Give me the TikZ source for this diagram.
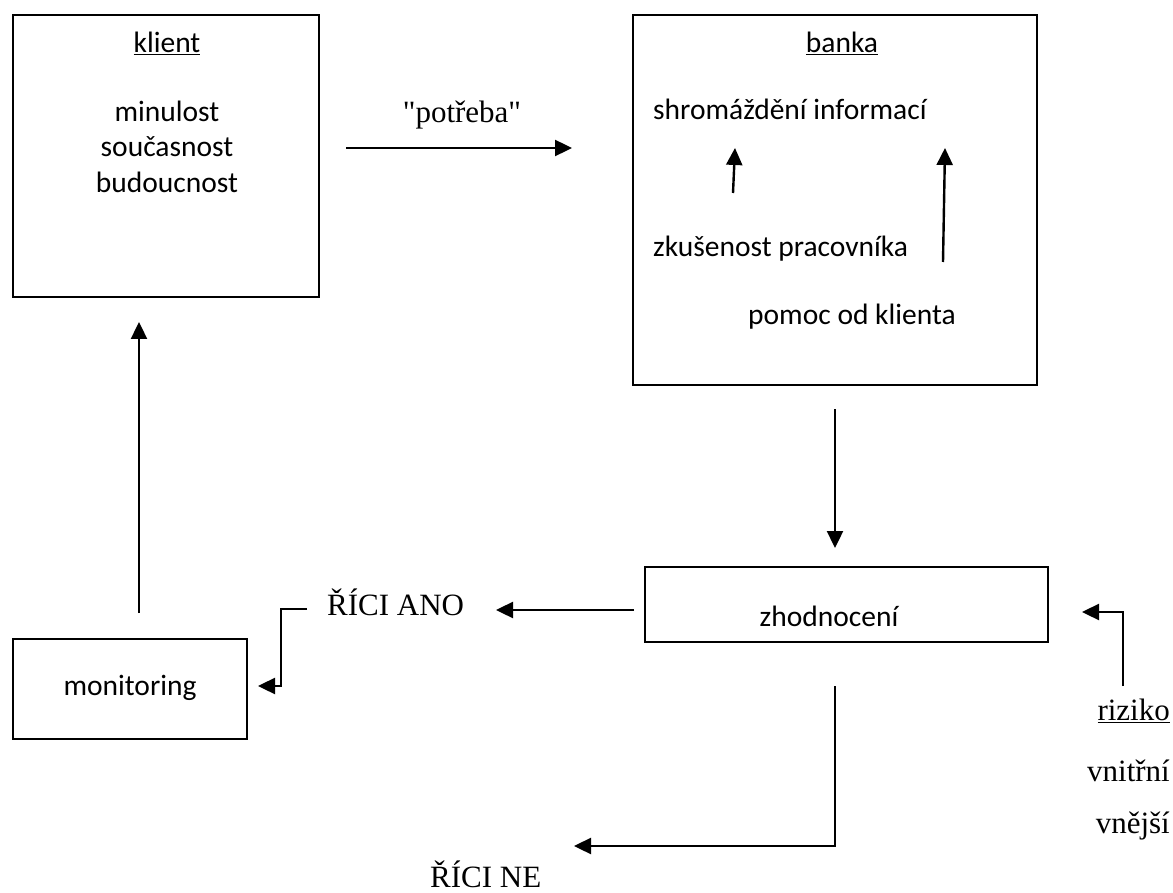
\documentclass[tikz,border=0pt]{standalone}
\usepackage{fontspec}
\newfontfamily\serifplain{Liberation Serif}
\newfontfamily\calib{Carlito}
\usetikzlibrary{arrows.meta}
\tikzset{
  box/.style={draw, line width=1.7pt, inner sep=0pt},
  cal/.style={font=\calib\fontsize{29.5}{35}\selectfont, inner sep=0pt},
  tms/.style={font=\serifplain\fontsize{31}{37}\selectfont, inner sep=0pt},
  conn/.style={line width=2.4pt, -{Triangle[length=17pt,width=16pt]}}
}
\begin{document}
\begin{tikzpicture}[x=1pt,y=-1pt]
\useasboundingbox (0,0) rectangle (1173,893);

% client box
\node[box, minimum width=306pt, minimum height=282pt] (klient) at (166,156) {};
\node[cal, anchor=base] (klt) at (167,53) {\underline{klient}};
\node[cal, anchor=base] (k1) at (167,122) {minulost};
\node[cal, anchor=base] (k2) at (167,157) {současnost};
\node[cal, anchor=base] (k3) at (167,193) {budoucnost};

% bank box
\node[box, minimum width=404pt, minimum height=370pt] (banka) at (835,200) {};
\node[cal, anchor=base] (bkt) at (842,53) {\underline{banka}};
\node[cal, anchor=base west] (shrom) at (653,120) {shromáždění informací};
\node[cal, anchor=base west] (zkus) at (653,257) {zkušenost pracovníka};
\node[cal, anchor=base west] (pomoc) at (748,325) {pomoc od klienta};
\coordinate (a1s) at (733,193); \coordinate (a1e) at (735,148);
\coordinate (a2s) at (943,262); \coordinate (a2e) at (945,148);
\draw[conn] (a1s) -- (a1e);
\draw[conn] (a2s) -- (a2e);

% need arrow
\node[tms, anchor=base] (potreba) at (462,123) {"potřeba"};
\coordinate (p1) at (346,148); \coordinate (p2) at (572,148);
\draw[conn] (p1) -- (p2);

% evaluation box
\node[box, minimum width=403pt, minimum height=75pt] (zhod) at (846.5,604.5) {};
\node[cal, anchor=base] (zhodt) at (829,626) {zhodnocení};
\coordinate (b1) at (835,409); \coordinate (b2) at (835,548);
\draw[conn] (b1) -- (b2);

% yes branch
\node[tms, anchor=base west] (ano) at (327,615) {ŘÍCI ANO};
\coordinate (y1) at (634,610); \coordinate (y2) at (496,610);
\draw[conn] (y1) -- (y2);
\node[box, minimum width=234pt, minimum height=100pt] (monit) at (130,689) {};
\node[cal, anchor=base] (monitt) at (130,695) {monitoring};
\coordinate (m1) at (307,609); \coordinate (m2) at (258,686);
\draw[conn] (m1) -- (281,609) -- (281,686) -- (m2);
\coordinate (u1) at (139,613); \coordinate (u2) at (139,322);
\draw[conn] (u1) -- (u2);

% no branch
\node[tms, anchor=base west] (ne) at (430,887) {ŘÍCI NE};
\coordinate (n1) at (835,686); \coordinate (n2) at (574,846);
\draw[conn] (n1) -- (835,846) -- (n2);

% risk
\node[tms, anchor=base east] (riz) at (1170,720) {\underline{riziko}};
\node[tms, anchor=base east] (vnitr) at (1170,781) {vnitřní};
\node[tms, anchor=base east] (vnej) at (1170,833) {vnější};
\coordinate (r1) at (1123,686); \coordinate (r2) at (1082,612);
\draw[conn] (r1) -- (1123,612) -- (r2);
\end{tikzpicture}
\end{document}
